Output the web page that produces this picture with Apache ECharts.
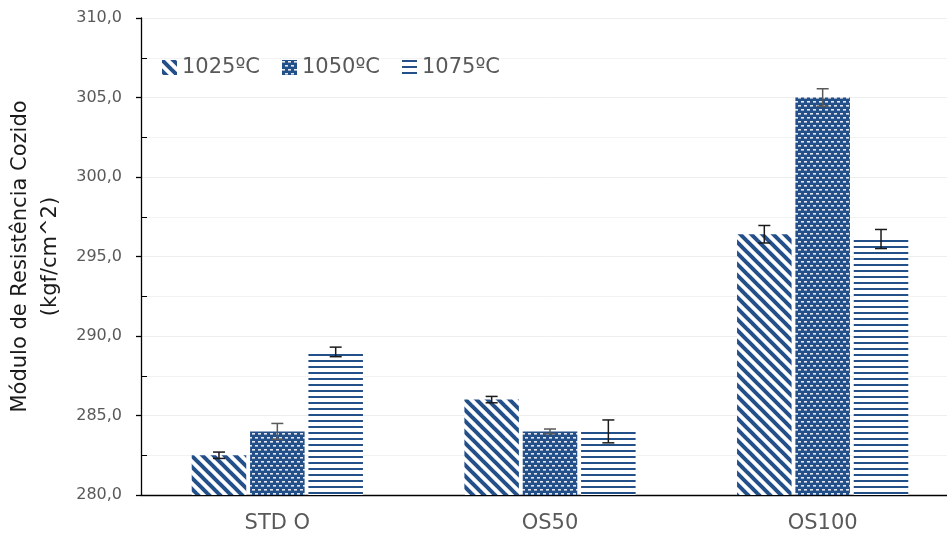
<!DOCTYPE html>
<html>
<head>
<meta charset="utf-8">
<script src="https://cdn.jsdelivr.net/npm/echarts@6/dist/echarts.min.js"></script>
<style>
  html, body { margin: 0; padding: 0; background: #fff; }
  #chart { width: 947px; height: 540px; }
</style>
</head>
<body>
<div id="chart"></div>
<script>
// Firing-temperature groups per sample
const categories = ['STD O', 'OS50', 'OS100'];
const seriesNames = ['1025ºC', '1050ºC', '1075ºC'];

// Mean fired strength (kgf/cm^2)
const values1025 = [282.5, 286.0, 296.4];
const values1050 = [284.0, 284.0, 305.0];
const values1075 = [289.0, 284.0, 296.1];

// Standard deviation for each bar
const err1025 = [0.2, 0.2, 0.55];
const err1050 = [0.5, 0.15, 0.55];
const err1075 = [0.3, 0.72, 0.6];

// Value-axis range
const yMin = 280;
const yMax = 310;
const yStep = 5;

const BLUE = '#24508a';
const FONT = 'DejaVu Sans';

function makeTile(w, h, draw) {
  const c = document.createElement('canvas');
  c.width = w; c.height = h;
  const ctx = c.getContext('2d');
  draw(ctx, w, h);
  return { image: c, repeat: 'repeat' };
}

// wide downward diagonal stripes
const diagFill = makeTile(11, 11, (ctx, w, h) => {
  ctx.fillStyle = '#fff';
  ctx.fillRect(0, 0, w, h);
  ctx.strokeStyle = BLUE;
  ctx.lineWidth = 4;
  for (let k = -1; k <= 1; k++) {
    ctx.beginPath();
    ctx.moveTo(k * w - 2, -2);
    ctx.lineTo(k * w + w + 2, h + 2);
    ctx.stroke();
  }
});

// dark fill broken by staggered white dashes
const dashFill = makeTile(6, 8, (ctx, w, h) => {
  ctx.fillStyle = BLUE;
  ctx.fillRect(0, 0, w, h);
  ctx.fillStyle = '#e4e9f1';
  ctx.fillRect(0, 1, 3, 1.6);
  ctx.fillRect(3, 5, 3, 1.6);
});

// narrow horizontal lines
const hlineFill = makeTile(6, 6, (ctx, w, h) => {
  ctx.fillStyle = '#fff';
  ctx.fillRect(0, 0, w, h);
  ctx.fillStyle = BLUE;
  ctx.fillRect(0, 0, w, 2);
});

const fills = [diagFill, dashFill, hlineFill];
const valueSets = [values1025, values1050, values1075];
const errSets = [err1025, err1050, err1075];
const errColors = ['#1a1a1a', '#595959', '#1a1a1a'];

const BAR_W = 0.2;   // fraction of category band
const BAR_GAP = 0.07; // fraction of bar width

const barSeries = seriesNames.map((name, i) => ({
  name: name,
  type: 'bar',
  data: valueSets[i],
  barWidth: (BAR_W * 100) + '%',
  barGap: (BAR_GAP * 100) + '%',
  itemStyle: { color: fills[i] },
  emphasis: { disabled: true },
  z: 2
}));

const errorSeries = seriesNames.map((name, i) => ({
  type: 'custom',
  name: name + ' err',
  z: 5,
  silent: true,
  data: categories.map((c, j) => [j, valueSets[i][j], errSets[i][j]]),
  encode: { x: 0, y: 1 },
  renderItem: function (params, api) {
    const band = api.size([1, 0])[0];
    const bw = band * BAR_W;
    const gap = bw * BAR_GAP;
    const offset = (i - 1) * (bw + gap);
    const v = api.value(1), e = api.value(2);
    const top = api.coord([api.value(0), v + e]);
    const bot = api.coord([api.value(0), v - e]);
    const x = top[0] + offset;
    const cap = 6;
    const style = { stroke: errColors[i], lineWidth: 1.5, fill: null };
    return {
      type: 'group',
      children: [
        { type: 'line', shape: { x1: x, y1: top[1], x2: x, y2: bot[1] }, style: style },
        { type: 'line', shape: { x1: x - cap, y1: top[1], x2: x + cap, y2: top[1] }, style: style },
        { type: 'line', shape: { x1: x - cap, y1: bot[1], x2: x + cap, y2: bot[1] }, style: style }
      ]
    };
  }
}));

const chart = echarts.init(document.getElementById('chart'), null, { renderer: 'canvas' });
chart.setOption({
  animation: false,
  backgroundColor: '#fff',
  grid: { left: 141, top: 18, width: 818, height: 477, containLabel: false, outerBoundsMode: 'none' },
  legend: {
    data: seriesNames,
    left: 157,
    top: 52,
    icon: 'rect',
    itemWidth: 15,
    itemHeight: 15,
    itemGap: 22,
    textStyle: { fontFamily: FONT, fontSize: 21, color: '#595959' }
  },
  xAxis: {
    type: 'category',
    data: categories,
    axisLine: { lineStyle: { color: '#000', width: 1.3 } },
    axisTick: { show: false },
    axisLabel: { fontFamily: FONT, fontSize: 21, color: '#595959', margin: 18 },
    splitLine: { show: false }
  },
  yAxis: {
    type: 'value',
    min: yMin,
    max: yMax,
    interval: yStep,
    name: 'Módulo de Resistência Cozido\n(kgf/cm^2)',
    nameLocation: 'middle',
    nameRotate: 90,
    nameGap: 67,
    nameTextStyle: { fontFamily: FONT, fontSize: 21, color: '#1a1a1a', lineHeight: 30 },
    axisLine: { show: true, lineStyle: { color: '#000', width: 1.3 } },
    axisTick: { show: true, length: 5, lineStyle: { color: '#000', width: 1.3 } },
    minorTick: { show: true, splitNumber: 2, length: -6, lineStyle: { color: '#000', width: 1 } },
    axisLabel: {
      fontFamily: FONT, fontSize: 16, color: '#595959', margin: 19,
      formatter: v => v.toFixed(1).replace('.', ',')
    },
    splitLine: { show: true, lineStyle: { color: '#eeeeee', width: 1 } },
    minorSplitLine: { show: true, lineStyle: { color: '#f2f2f2', width: 1 } }
  },
  series: barSeries.concat(errorSeries)
});
</script>
</body>
</html>
